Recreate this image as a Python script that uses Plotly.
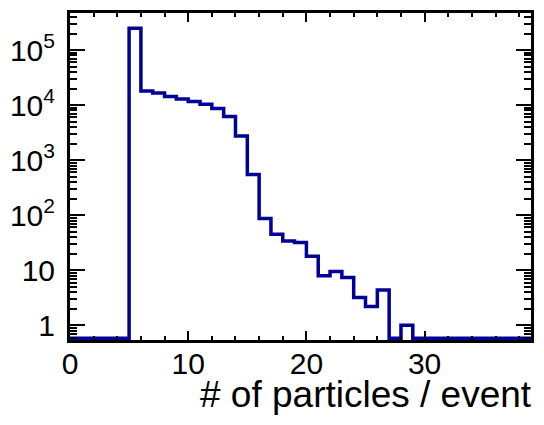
import numpy as np
import plotly.graph_objects as go

# Histogram: number of particles per event (bins of width 1 from 0 to 39)
bin_edges = list(range(0, 40))
counts = [0, 0, 0, 0, 0,
          2.5e5, 1.8e4, 1.66e4, 1.43e4, 1.29e4, 1.16e4, 1.04e4, 8.7e3, 6.2e3, 2.76e3,
          550, 87, 45, 34, 32, 18, 8, 9.5, 7.4, 3.2,
          2.2, 4.4, 0, 1, 0, 0, 0, 0, 0, 0,
          0, 0, 0, 0]

y_tick_vals = [1, 10, 100, 1e3, 1e4, 1e5]
y_tick_text = ["1", "10", "10<sup>2</sup>", "10<sup>3</sup>", "10<sup>4</sup>", "10<sup>5</sup>"]
x_tick_vals = [0, 10, 20, 30]
x_title = "# of particles / event"

y_log_range = [-0.266, 5.674]
x_range = [0, 39]

# empty bins are drawn on the floor of the log axis (as ROOT does)
floor = 10 ** (y_log_range[0] + 0.005 * (y_log_range[1] - y_log_range[0]))
yvals = [c if c > 0 else floor for c in counts]
xs = bin_edges + [bin_edges[-1] + 1]
ys = yvals + [yvals[-1]]

minor_y = [k * 10 ** n for n in range(-1, 6) for k in range(2, 10)
           if y_log_range[0] <= np.log10(k * 10 ** n) <= y_log_range[1]]

FONT = "Liberation Sans, Arial, Helvetica, sans-serif"

fig = go.Figure()
fig.add_trace(go.Scatter(
    x=xs, y=ys, mode="lines", line=dict(shape="hv", color="#000099", width=3.5),
    showlegend=False, hoverinfo="skip"))

axis_common = dict(showgrid=False, zeroline=False, showline=True, linecolor="black",
                   linewidth=3, mirror="allticks", ticks="inside", tickcolor="black",
                   tickfont=dict(family=FONT, size=30, color="black"))

fig.update_xaxes(range=x_range, tickmode="array", tickvals=x_tick_vals,
                 ticklen=9, tickwidth=2,
                 minor=dict(ticks="inside", dtick=2, tick0=0, ticklen=4, tickwidth=2,
                            tickcolor="black", showgrid=False),
                 ticklabelstandoff=-5, **axis_common)
fig.update_yaxes(type="log", range=y_log_range, tickmode="array", tickvals=y_tick_vals,
                 ticktext=y_tick_text, ticklen=15, tickwidth=2,
                 minor=dict(ticks="inside", tickmode="array", tickvals=minor_y, ticklen=7,
                            tickwidth=1.5, tickcolor="black", showgrid=False),
                 ticklabelstandoff=6, **axis_common)

fig.add_annotation(text=x_title, xref="paper", yref="paper", x=1, y=0,
                   xanchor="right", yanchor="middle", yshift=-54, xshift=3,
                   showarrow=False,
                   font=dict(family=FONT, size=37, color="black"))

fig.update_layout(width=544, height=425, margin=dict(l=70, r=10, t=11, b=85),
                  plot_bgcolor="white", paper_bgcolor="white")

fig.write_html("out.html")
